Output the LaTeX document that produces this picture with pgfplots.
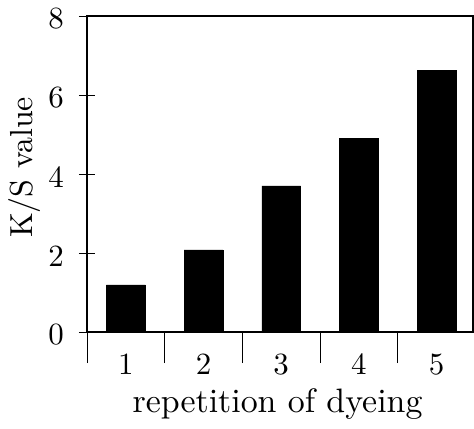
\documentclass[border=0pt]{standalone}
\usepackage{fontspec}
% text-size design of Latin Modern at every size
\setmainfont{lmroman10-regular.otf}
\usepackage{pgfplots}
\pgfplotsset{compat=1.18}
\begin{document}
\begin{tikzpicture}
\useasboundingbox (0,0) rectangle (474bp,429bp);
\begin{axis}[
  at={(87bp,97bp)}, anchor=south west,
  scale only axis, width=386bp, height=316bp,
  xmin=0.5, xmax=5.47, ymin=0, ymax=8,
  axis line style={line width=1.6bp},
  ybar, bar width=0.5,
  ytick={0,2,4,6,8},
  ytick pos=left,
  y tick style={line width=0.6bp, black},
  tick align=center,
  major tick length=16bp,
  xtick={1,2,3,4,5},
  x tick style={draw=none},
  xtick pos=bottom,
  extra x ticks={0.5,1.5,2.5,3.5,4.5},
  extra x tick labels={},
  extra x tick style={tick align=outside, major tick length=31bp,
    x tick style={draw=black, line width=0.8bp}},
  /pgf/number format/assume math mode=true,
  tick label style={font=\fontsize{31}{36}\selectfont, inner sep=0pt},
  xticklabel style={anchor=base, yshift=-34bp},
  yticklabel style={anchor=east, xshift=-15bp, yshift=-3bp},
  xlabel={repetition of dyeing},
  ylabel={K/S value},
  xlabel style={font=\fontsize{34}{40}\selectfont,
    at={(axis description cs:0.4935,-0.2563)}, anchor=base},
  ylabel style={font=\fontsize{32}{38}\selectfont,
    at={(axis description cs:-0.140,0.5206)}, anchor=base},
]
\addplot[fill=black, draw=black] coordinates {(1,1.19) (2,2.08) (3,3.70) (4,4.91) (5,6.63)};
\end{axis}
\end{tikzpicture}
\end{document}
